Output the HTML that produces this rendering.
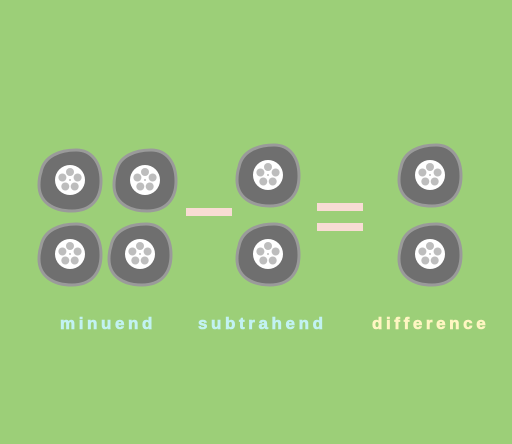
<!DOCTYPE html>
<html><head><meta charset="utf-8"><style>
html,body{margin:0;padding:0;}
body{width:512px;height:444px;background:#9ccf78;overflow:hidden;position:relative;font-family:"Liberation Sans",sans-serif;}
.lbl{position:absolute;top:314px;font-weight:bold;font-size:17px;letter-spacing:3.6px;-webkit-text-stroke:0.6px currentColor;}
.bar{position:absolute;background:#f8dcd4;height:8px;width:46px;}
</style></head><body>
<svg width="512" height="444" style="position:absolute;left:0;top:0">
<defs>
<g id="rock">
<path d="M-29,-8 C-26,-24 -10,-30 6,-30 C22,-30 31,-17 31,1 C31,19 21,31 2,31 C-17,31 -31,22 -31,5 C-31,-1 -30,-5 -29,-8 Z" fill="#6f6f6f" stroke="#9a9a9a" stroke-width="3"/>
<circle r="15" fill="#ffffff"/>
<circle cx="0" cy="-8" r="4" fill="#bdbdbd"/>
<circle cx="7.6" cy="-2.5" r="4" fill="#bdbdbd"/>
<circle cx="4.7" cy="6.5" r="4" fill="#bdbdbd"/>
<circle cx="-4.7" cy="6.5" r="4" fill="#bdbdbd"/>
<circle cx="-7.6" cy="-2.5" r="4" fill="#bdbdbd"/>
<circle r="1" fill="#bdbdbd"/>
</g>
</defs>
<use href="#rock" x="70" y="180"/>
<use href="#rock" x="145" y="180"/>
<use href="#rock" x="70" y="254"/>
<use href="#rock" x="140" y="254"/>
<use href="#rock" x="268" y="175"/>
<use href="#rock" x="268" y="254"/>
<use href="#rock" x="430" y="175"/>
<use href="#rock" x="430" y="254"/>
</svg>
<div class="bar" style="left:186px;top:208px"></div>
<div class="bar" style="left:317px;top:203px"></div>
<div class="bar" style="left:317px;top:223px"></div>
<div class="lbl" style="left:60px;color:#c2f2f2">minuend</div>
<div class="lbl" style="left:198px;color:#c2f2f2">subtrahend</div>
<div class="lbl" style="left:372px;color:#fff6c2">difference</div>
</body></html>
